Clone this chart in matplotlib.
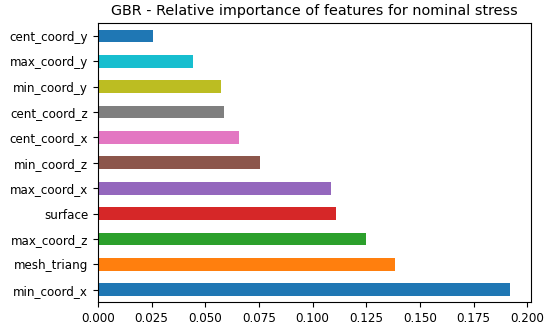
import matplotlib
matplotlib.use("Agg")
import matplotlib.pyplot as plt
import pandas as pd

# feature importances, bottom to top
features = ['min_coord_x', 'mesh_triang', 'max_coord_z', 'surface', 'max_coord_x',
            'min_coord_z', 'cent_coord_x', 'cent_coord_z', 'min_coord_y',
            'max_coord_y', 'cent_coord_y']
importance = [0.192, 0.1386, 0.125, 0.111, 0.1084, 0.0755, 0.0655, 0.0585,
              0.0575, 0.0445, 0.0255]

colors = plt.rcParams['axes.prop_cycle'].by_key()['color']
bar_colors = [colors[i % len(colors)] for i in range(len(features))]

s = pd.Series(importance, index=features)

fig = plt.figure(figsize=(5.5, 3.34), dpi=100)
ax = fig.add_axes([0.178, 0.095, 0.787, 0.835])
s.plot(kind='barh', ax=ax, color=bar_colors)
ax.tick_params(labelsize=8.6)
ax.set_title('GBR - Relative importance of features for nominal stress', fontsize=10.4)

fig.savefig('out.png', dpi=100)
